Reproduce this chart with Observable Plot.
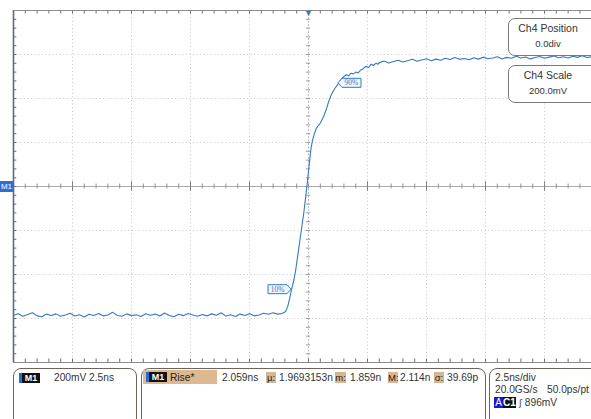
<!DOCTYPE html>
<html><head><meta charset="utf-8">
<script src="https://cdn.jsdelivr.net/npm/d3@7"></script>
<script src="https://cdn.jsdelivr.net/npm/@observablehq/plot@0.6"></script>
<style>
html,body{margin:0;padding:0;background:#fff;overflow:hidden;}
#wrap{position:relative;width:591px;height:419px;overflow:hidden;font-family:"Liberation Sans",Arial,sans-serif;color:#333;}
#wrap svg{position:absolute;left:0;top:0;}
.abs{position:absolute;white-space:nowrap;}
.box{position:absolute;border:1.5px solid #6d655c;border-radius:8px;background:#fff;}
.tbox{position:absolute;border:1.5px solid #7a7a7a;border-radius:7px;background:#fff;}
.blk{position:absolute;background:#111;color:#fff;font-size:9px;font-weight:bold;line-height:10px;height:10px;text-align:center;}
.bar{position:absolute;background:#1e6fd9;width:3px;height:10px;}
.tan{position:absolute;background:#d9b48f;color:#222;font-size:9.5px;line-height:11px;height:11px;text-align:center;}
.t11{font-size:10.2px;line-height:12px;}
</style></head><body><div id="wrap"></div>
<script>
// time (ns, 2.5 ns/div, trigger at 0) and voltage (mV, 200 mV/div)
const times = [
-12.5,-12.3,-12.1,-11.9,-11.7,-11.5,-11.3,-11.1,-10.9,-10.7,
-10.5,-10.3,-10.1,-9.9,-9.7,-9.5,-9.3,-9.1,-8.9,-8.7,
-8.5,-8.3,-8.1,-7.9,-7.7,-7.5,-7.3,-7.1,-6.9,-6.7,
-6.5,-6.3,-6.1,-5.9,-5.7,-5.5,-5.3,-5.1,-4.9,-4.7,
-4.5,-4.3,-4.1,-3.9,-3.7,-3.5,-3.3,-3.1,-2.9,-2.7,
-2.5,-2.3,-2.1,-1.9,-1.7,-1.5,
-1.3,-1.1,-0.97,-0.88,-0.80,-0.72,-0.62,-0.55,-0.45,-0.34,
-0.20,-0.08,0.02,0.10,0.17,0.25,0.32,0.40,0.48,0.56,
0.64,0.75,0.85,0.97,1.10,1.27,1.40,1.50,1.60,1.70,
1.80,1.90,2.00,2.10,2.20,2.30,2.42,2.55,2.65,2.75,
2.85,2.95,
3.0,3.2,3.4,3.6,3.8,4.0,4.2,4.4,4.6,4.8,
5.0,5.2,5.4,5.6,5.8,6.0,6.2,6.4,6.6,6.8,
7.0,7.2,7.4,7.6,7.8,8.0,8.2,8.4,8.6,8.8,
9.0,9.2,9.4,9.6,9.8,10.0,10.2,10.4,10.6,10.8,
11.0,11.2,11.4,11.6,11.8,12.0
];
const volts = [
-585,-578,-590,-582,-574,-588,-592,-580,-586,-579,
-590,-584,-576,-589,-583,-593,-581,-586,-577,-588,
-584,-572,-586,-590,-579,-587,-583,-591,-578,-585,
-580,-589,-575,-586,-592,-581,-587,-577,-584,-590,
-582,-588,-579,-585,-574,-589,-583,-591,-580,-586,
-578,-588,-584,-576,-581,-574,
-580,-576,-568,-545,-510,-469,-425,-385,-310,-225,
-120,-10,90,170,210,240,262,275,285,300,
318,350,385,418,443,469,490,500,508,503,
515,512,520,516,528,534,546,541,556,550,
560,556,
563,570,561,568,574,566,572,578,569,575,
581,572,579,574,583,577,586,578,582,576,
585,579,588,581,584,590,580,587,583,592,
584,589,580,586,591,583,588,593,585,590,
584,592,587,594,586,590
];
const markerNames = ["10%", "90%"];
const markerTimes = [-0.72, 1.27];
const markerVolts = [-469, 469];

const wave = times.map((t, i) => ({t, v: volts[i]}));
const majorX = d3.range(-10, 12.5, 2.5).filter(d => d !== 0);
const majorY = d3.range(-600, 800, 200).filter(d => d !== 0);
const minorX = d3.range(-12.5, 12.01, 0.5);
const minorY = d3.range(-800, 801, 40);
const blue = "#3579c2";

function markerMark(index, scales) {
  const g = d3.create("svg:g");
  markerNames.forEach((name, i) => {
    const px = scales.x(markerTimes[i]), py = scales.y(markerVolts[i]);
    const w = 19, h = 9, tip = 4;
    const s = i === 0 ? -1 : 1;
    const x1 = px + s * tip, x2 = px + s * (tip + w);
    g.append("path")
      .attr("d", `M${px},${py}L${x1},${py - h / 2}L${x2},${py - h / 2}L${x2},${py + h / 2}L${x1},${py + h / 2}Z`)
      .attr("fill", "#eef6fc").attr("stroke", blue).attr("stroke-width", 1);
    g.append("text").attr("x", (x1 + x2) / 2).attr("y", py + 2.6)
      .attr("text-anchor", "middle").attr("font-size", 7.5)
      .attr("font-family", "Liberation Serif, serif").attr("fill", blue).text(name);
  });
  return g.node();
}

const chart = Plot.plot({
  width: 591, height: 366,
  marginLeft: 13, marginRight: 0, marginTop: 10, marginBottom: 4,
  x: {domain: [-12.5, 11.99], axis: null},
  y: {domain: [-800, 800], axis: null},
  style: {background: "transparent"},
  marks: [
    Plot.ruleX(majorX, {stroke: "#c6c6c6", strokeDasharray: "1,2.6"}),
    Plot.ruleY(majorY, {stroke: "#c6c6c6", strokeDasharray: "1,2.6"}),
    Plot.ruleX([0], {stroke: "#bbbbbb", strokeDasharray: "2,1.5"}),
    Plot.ruleY([0], {stroke: "#ababab"}),
    Plot.ruleX(minorX, {x: d => d, y1: -11, y2: 11, stroke: "#909090"}),
    Plot.ruleX(majorX, {x: d => d, y1: -22, y2: 22, stroke: "#808080"}),
    Plot.ruleY(minorY, {y: d => d, x1: -0.09, x2: 0.09, stroke: "#a0a0a0"}),
    Plot.ruleX(minorX, {x: d => d, y1: 800, y2: 784, stroke: "#707070"}),
    Plot.ruleX(minorX, {x: d => d, y1: -800, y2: -784, stroke: "#707070"}),
    Plot.ruleY(minorY, {y: d => d, x1: -12.5, x2: -12.36, stroke: "#707070"}),
    Plot.ruleY([800, -800], {stroke: "#8c8c8c"}),
    Plot.ruleX([-12.5], {stroke: "#5d6c7a", strokeWidth: 1.6}),
    Plot.line(wave, {x: "t", y: "v", stroke: blue, strokeWidth: 1.1}),
    Plot.text(["▼"], {x: 0, y: 800, text: d => d, fill: blue, fontSize: 9, dy: 3}),
    markerMark
  ]
});
const wrap = document.getElementById("wrap");
wrap.appendChild(chart);

wrap.insertAdjacentHTML("beforeend", `
<div class="abs" style="left:0;top:181px;width:13px;height:11px;background:#2d6fd6;color:#fff;font-size:8px;line-height:11px;text-align:center;">M1</div>

<div class="tbox" style="left:508px;top:18px;width:95px;height:36px;"></div>
<div class="abs" style="left:508px;top:22px;width:80px;text-align:center;font-size:10.5px;">Ch4 Position</div>
<div class="abs" style="left:508px;top:38px;width:80px;text-align:center;font-size:9.5px;">0.0div</div>
<div class="tbox" style="left:508px;top:65px;width:95px;height:36px;"></div>
<div class="abs" style="left:508px;top:69px;width:80px;text-align:center;font-size:10.5px;">Ch4 Scale</div>
<div class="abs" style="left:508px;top:85px;width:80px;text-align:center;font-size:9.5px;">200.0mV</div>

<div class="box" style="left:13px;top:368px;width:122px;height:70px;"></div>
<div class="bar" style="left:19px;top:373px;"></div>
<div class="blk" style="left:22px;top:373px;width:18px;">M1</div>
<div class="abs t11" style="left:54px;top:372px;">200mV 2.5ns</div>

<div class="box" style="left:141px;top:368px;width:343px;height:70px;"></div>
<div class="abs" style="left:143px;top:370px;width:74px;height:14px;background:#ddb892;"></div>
<div class="bar" style="left:146px;top:372px;"></div>
<div class="blk" style="left:149px;top:372px;width:18px;">M1</div>
<div class="abs t11" style="left:170px;top:372px;color:#222;">Rise*</div>
<div class="abs t11" style="left:222px;top:372px;">2.059ns</div>
<div class="tan" style="left:266px;top:372px;width:10px;">µ:</div>
<div class="abs t11" style="left:279px;top:372px;">1.9693153n</div>
<div class="tan" style="left:335px;top:372px;width:11px;">m:</div>
<div class="abs t11" style="left:350px;top:372px;">1.859n</div>
<div class="tan" style="left:388px;top:372px;width:10px;">M:</div>
<div class="abs t11" style="left:400px;top:372px;">2.114n</div>
<div class="tan" style="left:434px;top:372px;width:10px;">σ:</div>
<div class="abs t11" style="left:447px;top:372px;">39.69p</div>

<div class="box" style="left:489px;top:368px;width:110px;height:70px;"></div>
<div class="abs t11" style="left:495px;top:372px;">2.5ns/div</div>
<div class="abs t11" style="left:495px;top:384px;">20.0GS/s</div>
<div class="abs t11" style="left:547px;top:384px;">50.0ps/pt</div>
<div class="abs" style="left:494px;top:397px;width:9px;height:11px;background:#1a1ad0;color:#fff;font-size:10px;line-height:11px;text-align:center;">A</div>
<div class="blk" style="left:503px;top:397px;width:13px;height:11px;line-height:11px;font-size:10px;">C1</div>
<div class="abs t11" style="left:519px;top:397px;"><span style="font-family:'DejaVu Sans';font-size:9px;">ʃ</span> 896mV</div>
`);
</script>
</body></html>
